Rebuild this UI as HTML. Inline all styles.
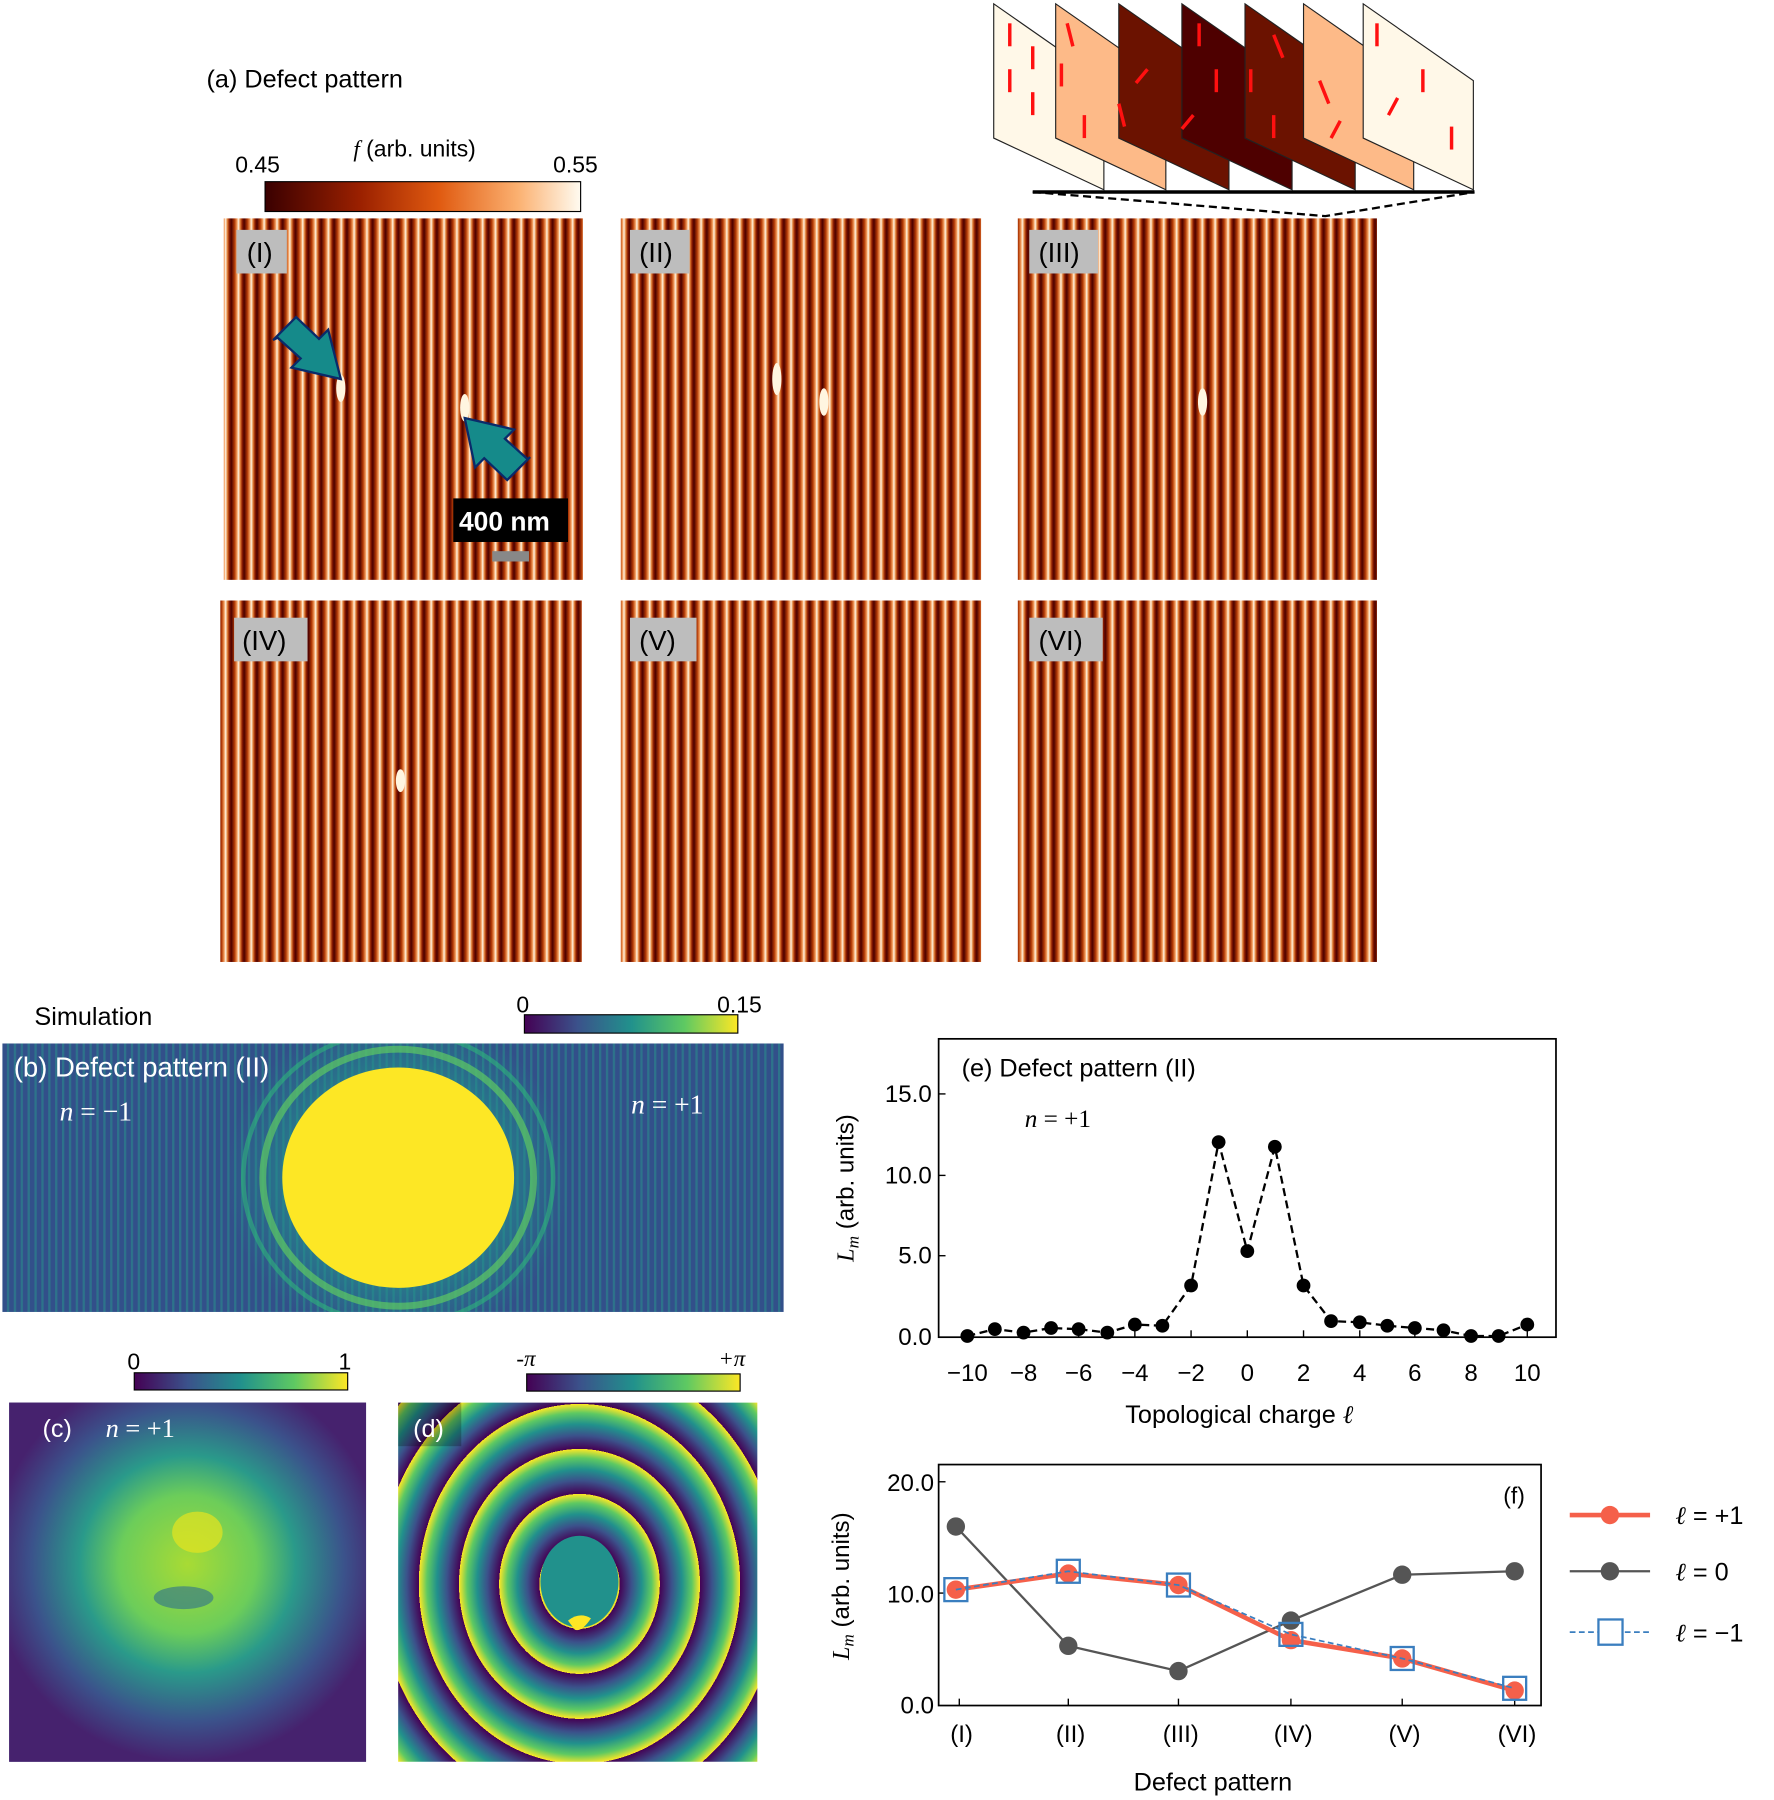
<!DOCTYPE html>
<html><head><meta charset="utf-8"><style>html,body{margin:0;padding:0;background:#fff}svg{display:block}text{font-family:"Liberation Sans",sans-serif}.s{font-family:"Liberation Serif",serif;font-style:italic}</style></head><body>
<svg width="1774" height="1800" viewBox="0 0 1546 1568" xmlns="http://www.w3.org/2000/svg">
<defs>
<linearGradient id="str" x1="0" x2="1" y1="0" y2="0">
<stop offset="0" stop-color="#4a0000"/><stop offset="0.25" stop-color="#b33a05"/><stop offset="0.45" stop-color="#f5a060"/><stop offset="0.55" stop-color="#fff6e6"/><stop offset="0.7" stop-color="#e07a30"/><stop offset="0.85" stop-color="#8a1a00"/><stop offset="1" stop-color="#4a0000"/></linearGradient>
<pattern id="pt" width="11.2" height="20" patternUnits="userSpaceOnUse"><rect width="11.2" height="20" fill="url(#str)"/></pattern>
<linearGradient id="cbA"><stop offset="0" stop-color="#3a0000"/><stop offset="0.3" stop-color="#9a2000"/><stop offset="0.55" stop-color="#e05a10"/><stop offset="0.8" stop-color="#fbb070"/><stop offset="1" stop-color="#fffbf0"/></linearGradient>
<linearGradient id="vir"><stop offset="0" stop-color="#440154"/><stop offset="0.25" stop-color="#3b528b"/><stop offset="0.5" stop-color="#21918c"/><stop offset="0.75" stop-color="#5ec962"/><stop offset="1" stop-color="#fde725"/></linearGradient>
<pattern id="ripple" width="6" height="10" patternUnits="userSpaceOnUse"><rect width="6" height="10" fill="#32508a"/><rect x="0" width="2" height="10" fill="#2a8a8c" opacity="0.6"/></pattern>
<radialGradient id="blob" cx="0.5" cy="0.45" r="0.55"><stop offset="0" stop-color="#a8db34"/><stop offset="0.35" stop-color="#6ccd5a"/><stop offset="0.55" stop-color="#2a9a8a"/><stop offset="0.8" stop-color="#3b528b"/><stop offset="1" stop-color="#46226e"/></radialGradient>
<radialGradient id="halo" cx="0.5" cy="0.5" r="0.5"><stop offset="0.4" stop-color="#2fb47c" stop-opacity="0.8"/><stop offset="0.7" stop-color="#21918c" stop-opacity="0.5"/><stop offset="1" stop-color="#21918c" stop-opacity="0"/></radialGradient>
<clipPath id="cb"><rect x="2" y="909" width="681" height="234"/></clipPath>
</defs>
<!-- (a) -->
<text x="180" y="76" font-size="22">(a) Defect pattern</text>
<text x="308" y="136" font-size="20"><tspan class="s">f</tspan> (arb. units)</text>
<text x="205" y="150" font-size="20">0.45</text><text x="482" y="150" font-size="20">0.55</text>
<rect x="231" y="158" width="275" height="26" fill="url(#cbA)" stroke="#000"/>
<rect x="195" y="190" width="313" height="315" fill="url(#pt)"/>
<rect x="541" y="190" width="314" height="315" fill="url(#pt)"/>
<rect x="887" y="190" width="313" height="315" fill="url(#pt)"/>
<rect x="192" y="523" width="315" height="315" fill="url(#pt)"/>
<rect x="541" y="523" width="314" height="315" fill="url(#pt)"/>
<rect x="887" y="523" width="313" height="315" fill="url(#pt)"/>
<g fill="#bdbdbd"><rect x="206" y="200" width="44" height="38"/><rect x="549" y="200" width="52" height="38"/><rect x="897" y="200" width="60" height="38"/><rect x="204" y="538" width="64" height="38"/><rect x="549" y="538" width="58" height="38"/><rect x="897" y="538" width="64" height="38"/></g>
<g font-size="24"><text x="215" y="228">(I)</text><text x="557" y="228">(II)</text><text x="905" y="228">(III)</text><text x="211" y="566">(IV)</text><text x="557" y="566">(V)</text><text x="905" y="566">(VI)</text></g>
<g fill="#fff5e0"><ellipse cx="297" cy="338" rx="4" ry="12"/><ellipse cx="405" cy="355" rx="4" ry="12"/><ellipse cx="677" cy="330" rx="4" ry="14"/><ellipse cx="718" cy="350" rx="4" ry="12"/><ellipse cx="1048" cy="350" rx="4" ry="12"/><ellipse cx="349" cy="680" rx="4" ry="10"/></g>
<polygon points="238,296 258,276 278,295 286,287 297,330 254,320 262,312 242,294" fill="#158a8a" stroke="#0a2a6a" stroke-width="2"/>
<polygon points="462,398 442,418 422,399 414,407 405,364 448,374 440,382 460,400" fill="#158a8a" stroke="#0a2a6a" stroke-width="2"/>
<rect x="395" y="434" width="100" height="38" fill="#000"/><text x="400" y="462" font-size="23" font-weight="bold" fill="#fff">400 nm</text>
<rect x="429" y="480" width="32" height="9" fill="#888"/>
<!-- planes -->
<g stroke="#222" stroke-width="1">
<polygon points="866,3 962,70 962,165 866,120" fill="#fff8e8"/>
<polygon points="920,3 1016,70 1016,165 920,120" fill="#fdba88"/>
<polygon points="975,3 1071,70 1071,165 975,120" fill="#6b1200"/>
<polygon points="1030,3 1126,70 1126,165 1030,120" fill="#4e0000"/>
<polygon points="1085,3 1181,70 1181,165 1085,120" fill="#6b1200"/>
<polygon points="1136,3 1232,70 1232,165 1136,120" fill="#fdba88"/>
<polygon points="1188,3 1284,70 1284,165 1188,120" fill="#fff8e8"/>
</g>
<g stroke="#ff1010" stroke-width="3">
<line x1="880" y1="40" x2="880" y2="20"/><line x1="880" y1="80" x2="880" y2="60"/><line x1="900" y1="60" x2="900" y2="40"/><line x1="900" y1="100" x2="900" y2="80"/><line x1="925" y1="75" x2="925" y2="55"/><line x1="945" y1="120" x2="945" y2="100"/>
<line x1="1045" y1="20" x2="1045" y2="40"/><line x1="1060" y1="60" x2="1060" y2="80"/><line x1="1090" y1="60" x2="1090" y2="80"/><line x1="1110" y1="100" x2="1110" y2="120"/>
<line x1="1000" y1="60" x2="990" y2="72"/><line x1="1040" y1="100" x2="1030" y2="112"/><line x1="1110" y1="30" x2="1118" y2="50"/><line x1="1150" y1="70" x2="1158" y2="90"/>
<line x1="1200" y1="40" x2="1200" y2="20"/><line x1="1240" y1="80" x2="1240" y2="60"/><line x1="1265" y1="130" x2="1265" y2="110"/>
<line x1="935" y1="40" x2="930" y2="20"/><line x1="980" y1="110" x2="975" y2="90"/><line x1="1160" y1="120" x2="1168" y2="105"/><line x1="1210" y1="100" x2="1218" y2="85"/>
</g>
<line x1="900" y1="167" x2="1285" y2="167" stroke="#000" stroke-width="3"/>
<polyline points="900,167 1155,188 1285,167" fill="none" stroke="#000" stroke-width="2" stroke-dasharray="7,4"/>
<!-- (b) -->
<text x="30" y="893" font-size="22">Simulation</text>
<text x="450" y="882" font-size="20">0</text><text x="625" y="882" font-size="20">0.15</text>
<rect x="457" y="884" width="186" height="16" fill="url(#vir)" stroke="#000"/>
<g clip-path="url(#cb)">
<rect x="2" y="909" width="681" height="234" fill="url(#ripple)"/>
<ellipse cx="347" cy="1026" rx="150" ry="145" fill="url(#halo)"/>
<ellipse cx="347" cy="1026" rx="118" ry="112" fill="none" stroke="#5ec962" stroke-width="6" opacity="0.7"/>
<ellipse cx="347" cy="1026" rx="135" ry="128" fill="none" stroke="#2fb47c" stroke-width="4" opacity="0.6"/>
<ellipse cx="347" cy="1026" rx="101" ry="96" fill="#fde725"/>
</g>
<text x="12" y="938" font-size="24" fill="#fff">(b) Defect pattern (II)</text>
<text x="52" y="976" font-size="24" fill="#fff" class="s">n <tspan font-style="normal">= −1</tspan></text>
<text x="550" y="970" font-size="24" fill="#fff" class="s">n <tspan font-style="normal">= +1</tspan></text>
<!-- (c) -->
<text x="111" y="1193" font-size="20">0</text><text x="295" y="1193" font-size="20">1</text>
<rect x="117" y="1196" width="186" height="15" fill="url(#vir)" stroke="#000"/>
<rect x="8" y="1222" width="311" height="313" fill="#3f3a7f"/>
<rect x="8" y="1222" width="311" height="313" fill="url(#blob)"/>
<ellipse cx="172" cy="1335" rx="22" ry="18" fill="#e6e420" opacity="0.7"/>
<ellipse cx="160" cy="1392" rx="26" ry="10" fill="#2d6f8e" opacity="0.6"/>
<text x="37" y="1252" font-size="22" fill="#fff">(c)</text><text x="92" y="1252" font-size="23" fill="#fff" class="s">n <tspan font-style="normal">= +1</tspan></text>
<!-- (d) -->
<text x="450" y="1190" font-size="20" class="s">-π</text><text x="626" y="1190" font-size="20" class="s">+π</text>
<rect x="459" y="1197" width="186" height="15" fill="url(#vir)" stroke="#000"/>
<svg x="347" y="1222" width="313" height="313" viewBox="-158 -158 313 313">
<defs><radialGradient id="ring2" gradientUnits="userSpaceOnUse" cx="0" cy="0" r="35" spreadMethod="repeat" gradientTransform="scale(1,1.12)">
<stop offset="0" stop-color="#440154"/><stop offset="0.3" stop-color="#3b528b"/><stop offset="0.55" stop-color="#21918c"/><stop offset="0.8" stop-color="#5ec962"/><stop offset="1" stop-color="#fde725"/></radialGradient></defs>
<rect x="-160" y="-160" width="320" height="320" fill="url(#ring2)"/>
<ellipse cx="0" cy="-2" rx="34" ry="40" fill="#21918c"/>
<path d="M-10,32 Q0,24 10,30 Q2,42 -4,40 Z" fill="#fde725"/>
</svg>
<rect x="347" y="1222" width="55" height="38" fill="#000" opacity="0.25"/>
<text x="360" y="1252" font-size="22" fill="#fff">(d)</text>
<!-- (e) -->
<rect x="818" y="905" width="538" height="260" fill="none" stroke="#000" stroke-width="1.5"/>
<g stroke="#000" stroke-width="1.2">
<line x1="843" y1="1165" x2="843" y2="1159"/><line x1="892" y1="1165" x2="892" y2="1159"/><line x1="940" y1="1165" x2="940" y2="1159"/><line x1="989" y1="1165" x2="989" y2="1159"/><line x1="1038" y1="1165" x2="1038" y2="1159"/><line x1="1087" y1="1165" x2="1087" y2="1159"/><line x1="1136" y1="1165" x2="1136" y2="1159"/><line x1="1185" y1="1165" x2="1185" y2="1159"/><line x1="1233" y1="1165" x2="1233" y2="1159"/><line x1="1282" y1="1165" x2="1282" y2="1159"/><line x1="1331" y1="1165" x2="1331" y2="1159"/>
<line x1="818" y1="1165" x2="824" y2="1165"/><line x1="818" y1="1094" x2="824" y2="1094"/><line x1="818" y1="1024" x2="824" y2="1024"/><line x1="818" y1="953" x2="824" y2="953"/>
</g>
<g font-size="21" text-anchor="middle"><text x="843" y="1203">−10</text><text x="892" y="1203">−8</text><text x="940" y="1203">−6</text><text x="989" y="1203">−4</text><text x="1038" y="1203">−2</text><text x="1087" y="1203">0</text><text x="1136" y="1203">2</text><text x="1185" y="1203">4</text><text x="1233" y="1203">6</text><text x="1282" y="1203">8</text><text x="1331" y="1203">10</text></g>
<g font-size="21" text-anchor="end"><text x="812" y="1172">0.0</text><text x="812" y="1101">5.0</text><text x="812" y="1031">10.0</text><text x="812" y="960">15.0</text></g>
<text x="1080" y="1240" font-size="22" text-anchor="middle">Topological charge <tspan class="s">ℓ</tspan></text>
<text transform="translate(744,1035) rotate(-90)" font-size="21" text-anchor="middle"><tspan class="s">L<tspan font-size="15" dy="4">m</tspan></tspan><tspan dy="-4"> (arb. units)</tspan></text>
<text x="838" y="938" font-size="22">(e) Defect pattern (II)</text>
<text x="893" y="982" font-size="22" class="s">n <tspan font-style="normal">= +1</tspan></text>
<polyline fill="none" stroke="#000" stroke-width="2" stroke-dasharray="7,4" points="843,1164 867,1158 892,1161 916,1157 940,1158 965,1161 989,1154 1013,1155 1038,1120 1062,995 1087,1090 1111,999 1136,1120 1160,1151 1185,1152 1209,1155 1233,1157 1258,1159 1282,1164 1306,1164 1331,1154"/>
<g fill="#000"><circle cx="843" cy="1164" r="6"/><circle cx="867" cy="1158" r="6"/><circle cx="892" cy="1161" r="6"/><circle cx="916" cy="1157" r="6"/><circle cx="940" cy="1158" r="6"/><circle cx="965" cy="1161" r="6"/><circle cx="989" cy="1154" r="6"/><circle cx="1013" cy="1155" r="6"/><circle cx="1038" cy="1120" r="6"/><circle cx="1062" cy="995" r="6"/><circle cx="1087" cy="1090" r="6"/><circle cx="1111" cy="999" r="6"/><circle cx="1136" cy="1120" r="6"/><circle cx="1160" cy="1151" r="6"/><circle cx="1185" cy="1152" r="6"/><circle cx="1209" cy="1155" r="6"/><circle cx="1233" cy="1157" r="6"/><circle cx="1258" cy="1159" r="6"/><circle cx="1282" cy="1164" r="6"/><circle cx="1306" cy="1164" r="6"/><circle cx="1331" cy="1154" r="6"/></g>
<!-- (f) -->
<rect x="818" y="1276" width="525" height="210" fill="none" stroke="#000" stroke-width="1.5"/>
<g stroke="#000" stroke-width="1.2"><line x1="836" y1="1486" x2="836" y2="1480"/><line x1="931" y1="1486" x2="931" y2="1480"/><line x1="1027" y1="1486" x2="1027" y2="1480"/><line x1="1125" y1="1486" x2="1125" y2="1480"/><line x1="1222" y1="1486" x2="1222" y2="1480"/><line x1="1320" y1="1486" x2="1320" y2="1480"/>
<line x1="818" y1="1388" x2="824" y2="1388"/><line x1="818" y1="1291" x2="824" y2="1291"/></g>
<g font-size="21" text-anchor="end"><text x="814" y="1493">0.0</text><text x="814" y="1396">10.0</text><text x="814" y="1299">20.0</text></g>
<g font-size="21" text-anchor="middle"><text x="838" y="1518">(I)</text><text x="933" y="1518">(II)</text><text x="1029" y="1518">(III)</text><text x="1127" y="1518">(IV)</text><text x="1224" y="1518">(V)</text><text x="1322" y="1518">(VI)</text></g>
<text x="1057" y="1560" font-size="22" text-anchor="middle">Defect pattern</text>
<text transform="translate(740,1382) rotate(-90)" font-size="21" text-anchor="middle"><tspan class="s">L<tspan font-size="15" dy="4">m</tspan></tspan><tspan dy="-4"> (arb. units)</tspan></text>
<text x="1310" y="1310" font-size="20">(f)</text>
<polyline fill="none" stroke="#555" stroke-width="2" points="833,1330 931,1434 1027,1456 1125,1412 1222,1372 1320,1369"/>
<g fill="#555"><circle cx="833" cy="1330" r="8"/><circle cx="931" cy="1434" r="8"/><circle cx="1027" cy="1456" r="8"/><circle cx="1125" cy="1412" r="8"/><circle cx="1222" cy="1372" r="8"/><circle cx="1320" cy="1369" r="8"/></g>
<polyline fill="none" stroke="#f5604a" stroke-width="4" points="833,1385 931,1371 1027,1381 1125,1429 1222,1445 1320,1473"/>
<g fill="#f5604a"><circle cx="833" cy="1385" r="8"/><circle cx="931" cy="1371" r="8"/><circle cx="1027" cy="1381" r="8"/><circle cx="1125" cy="1429" r="8"/><circle cx="1222" cy="1445" r="8"/><circle cx="1320" cy="1473" r="8"/></g>
<polyline fill="none" stroke="#3a7ebf" stroke-width="1.5" stroke-dasharray="5,3" points="833,1385 931,1369 1027,1381 1125,1424 1222,1445 1320,1471"/>
<g fill="none" stroke="#3a7ebf" stroke-width="2"><rect x="823" y="1375" width="20" height="20"/><rect x="921" y="1359" width="20" height="20"/><rect x="1017" y="1371" width="20" height="20"/><rect x="1115" y="1414" width="20" height="20"/><rect x="1212" y="1435" width="20" height="20"/><rect x="1310" y="1461" width="20" height="20"/></g>
<line x1="1368" y1="1320" x2="1438" y2="1320" stroke="#f5604a" stroke-width="4"/><circle cx="1403" cy="1320" r="8" fill="#f5604a"/>
<text x="1460" y="1328" font-size="22"><tspan class="s">ℓ</tspan> = +1</text>
<line x1="1368" y1="1369" x2="1438" y2="1369" stroke="#555" stroke-width="2"/><circle cx="1403" cy="1369" r="8" fill="#555"/>
<text x="1460" y="1377" font-size="22"><tspan class="s">ℓ</tspan> = 0</text>
<line x1="1368" y1="1422" x2="1438" y2="1422" stroke="#3a7ebf" stroke-width="1.5" stroke-dasharray="5,3"/><rect x="1393" y="1411" width="21" height="22" fill="#fff" stroke="#3a7ebf" stroke-width="2"/>
<text x="1460" y="1430" font-size="22"><tspan class="s">ℓ</tspan> = −1</text>
</svg>
</body></html>
